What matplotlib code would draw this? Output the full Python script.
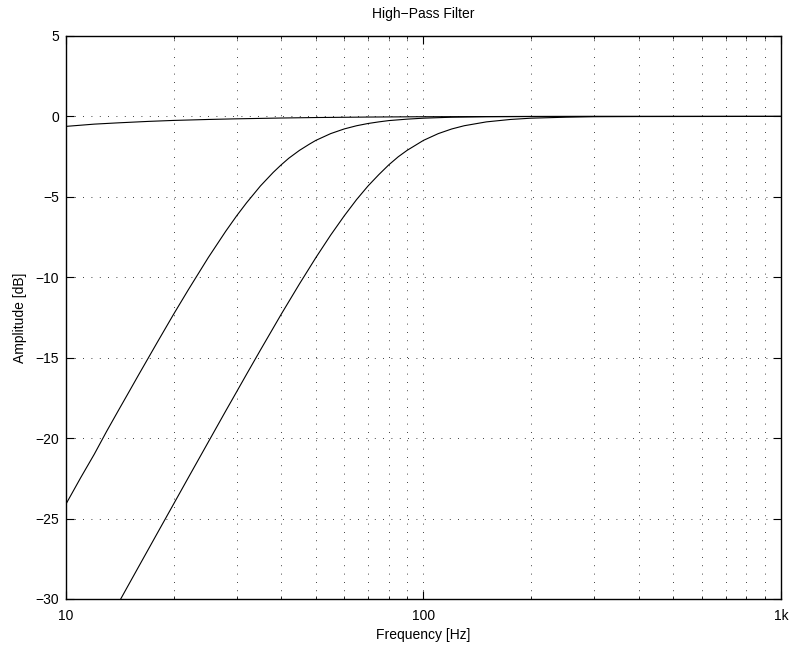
import matplotlib.pyplot as plt
from matplotlib.ticker import FixedLocator, LogLocator, NullFormatter

plt.rcParams['font.family'] = ['Liberation Sans', 'DejaVu Sans']
plt.rcParams['font.size'] = 10

# values
freq_low = [10, 12, 14, 17, 20, 25, 30, 40, 50, 70, 100, 150, 200, 400, 1000]
amp_low = [-0.62, -0.48, -0.40, -0.31, -0.25, -0.19, -0.15, -0.10, -0.07,
           -0.04, -0.02, -0.01, 0.0, 0.0, 0.0]

freq_mid = [10, 11, 12, 13, 14, 15, 16, 18, 20, 22, 25, 28, 30, 32, 35, 38,
            40, 42, 45, 48, 50, 55, 60, 65, 70, 75, 80, 90, 100, 120, 150, 200,
            300, 1000]
amp_mid = [-24.1, -22.45, -21.0, -19.57, -18.3, -17.13, -16.03, -14.05, -12.3,
           -10.77, -8.78, -7.13, -6.19, -5.37, -4.32, -3.48, -3.01, -2.6,
           -2.11, -1.72, -1.49, -1.07, -0.78, -0.58, -0.44, -0.34, -0.26,
           -0.17, -0.11, -0.05, -0.02, -0.01, 0.0, 0.0]

freq_high = [14, 15, 16, 18, 20, 22, 25, 28, 30, 32, 35, 40, 45, 50, 55, 60,
             65, 70, 75, 80, 85, 90, 100, 110, 120, 130, 150, 175, 200, 250,
             300, 400, 1000]
amp_high = [-30.28, -29.08, -27.96, -25.92, -24.1, -22.45, -20.25, -18.3,
            -17.13, -16.03, -14.52, -12.3, -10.41, -8.78, -7.38, -6.19, -5.17,
            -4.32, -3.62, -3.01, -2.51, -2.11, -1.49, -1.07, -0.78, -0.58,
            -0.34, -0.19, -0.11, -0.05, -0.02, -0.01, 0.0]

y_ticks = [5, 0, -5, -10, -15, -20, -25, -30]
x_ticks = [10, 100, 1000]
x_labels = ['10', '100', '1k']

fig = plt.figure(figsize=(7.93, 6.46), dpi=100)
ax = fig.add_axes([0.0832, 0.0728, 0.9016, 0.8715])

for f, a in [(freq_low, amp_low), (freq_mid, amp_mid), (freq_high, amp_high)]:
    ax.semilogx(f, a, color='black', linewidth=0.8)

ax.set_xlim(10, 1000)
ax.set_ylim(-30, 5)
ax.xaxis.set_major_locator(FixedLocator(x_ticks))
ax.set_xticklabels(x_labels)
ax.xaxis.set_minor_locator(LogLocator(base=10, subs=range(2, 10)))
ax.xaxis.set_minor_formatter(NullFormatter())
ax.set_yticks(y_ticks)
ax.set_yticklabels([str(v).replace('-', '\u2212') for v in y_ticks])

ax.tick_params(which='both', direction='in', top=True, right=True)
ax.tick_params(which='major', length=5.5, width=0.8)
ax.tick_params(axis='x', which='major', pad=7)
ax.tick_params(axis='y', which='major', pad=5)
ax.tick_params(which='minor', length=2.5, width=0.6)
for s in ax.spines.values():
    s.set_linewidth(1.0)

dots = (0, (1, 9))
ax.grid(True, which='major', color='black', linestyle=dots, linewidth=0.6)
ax.grid(True, which='minor', axis='x', color='black', linestyle=dots, linewidth=0.6)

ax.set_title('High\u2212Pass Filter', fontsize=10, pad=13)
ax.set_xlabel('Frequency [Hz]', labelpad=4)
ax.set_ylabel('Amplitude [dB]', labelpad=6)

fig.savefig('out.png', dpi=100)
